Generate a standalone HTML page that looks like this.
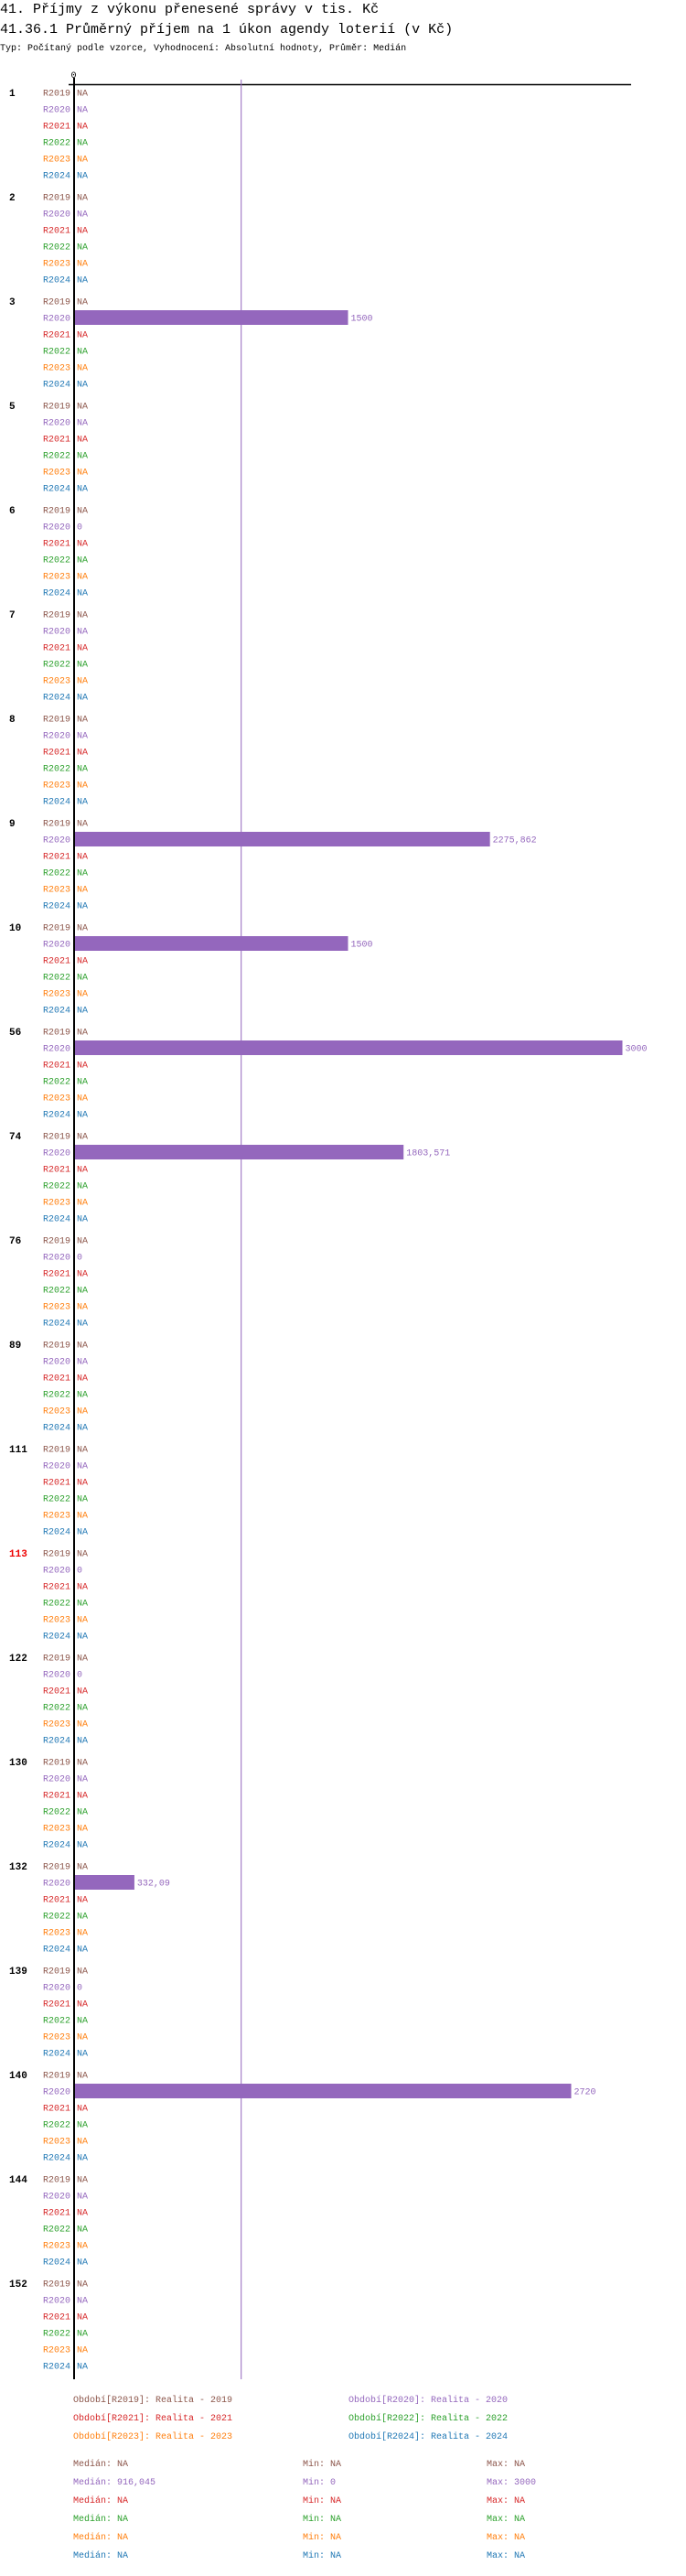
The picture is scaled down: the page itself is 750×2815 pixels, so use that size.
<!DOCTYPE html>
<html><head><meta charset="utf-8"><style>
body{margin:0;background:#fff;width:750px;height:2810px;overflow:hidden}
svg text{font-family:"Liberation Mono",monospace}
</style></head><body>
<svg id="chart" width="750" height="2810" xmlns="http://www.w3.org/2000/svg">
<text x="0" y="14" font-size="15">41. Příjmy z výkonu přenesené správy v tis. Kč</text>
<text x="0" y="36" font-size="15">41.36.1 Průměrný příjem na 1 úkon agendy loterií (v Kč)</text>
<text x="0" y="55" font-size="10">Typ: Počítaný podle vzorce, Vyhodnocení: Absolutní hodnoty, Průměr: Medián</text>
</svg>
<script>
const groups=["1","2","3","5","6","7","8","9","10","56","74","76","89","111","113","122","130","132","139","140","144","152"];
const periods=["R2019","R2020","R2021","R2022","R2023","R2024"];
const colors=["#8c564b","#9467bd","#d62728","#2ca02c","#ff7f0e","#1f77b4"];
const r2020=[null,null,1500,null,0,null,null,2275.862,1500,3000,1803.571,0,null,null,0,0,null,332.09,0,2720,null,null];
const r2020Labels=["NA","NA","1500","NA","0","NA","NA","2275,862","1500","3000","1803,571","0","NA","NA","0","0","NA","332,09","0","2720","NA","NA"];
const median=916.045;
const highlightGroup="113";
const legendNames=["Období[R2019]: Realita - 2019","Období[R2020]: Realita - 2020","Období[R2021]: Realita - 2021","Období[R2022]: Realita - 2022","Období[R2023]: Realita - 2023","Období[R2024]: Realita - 2024"];
const statMedian=["NA","916,045","NA","NA","NA","NA"];
const statMin=["NA","0","NA","NA","NA","NA"];
const statMax=["NA","3000","NA","NA","NA","NA"];

const svg=document.getElementById('chart');
const NS="http://www.w3.org/2000/svg";
const x0=80.5, k=0.2;
const xs=v=>x0+v*k;
const G=114, R=18, top0=101;
const rowY=(g,r)=>top0+g*G+r*R;
function el(t,a,txt){const e=document.createElementNS(NS,t);for(const q in a)e.setAttribute(q,a[q]);if(txt!==undefined)e.textContent=txt;svg.appendChild(e);return e;}
const bottom=rowY(groups.length-1,5)+15;
let e;
e=el('line',{x1:75,y1:92.5,x2:690,y2:92.5,stroke:'#000','stroke-width':1.5});


e=el('text',{x:xs(0),y:85,'font-size':10,'text-anchor':'middle'},'0');


e=el('line',{x1:xs(median),y1:87,x2:xs(median),y2:bottom,stroke:'#9467bd','stroke-width':1});


groups.forEach((g,gi)=>{
  e=el('text',{x:10,y:rowY(gi,0)+4,'font-size':11,'font-weight':'bold',fill:g===highlightGroup?'#e00':'#000'},g);
  
  
  periods.forEach((p,pi)=>{
    const y=rowY(gi,pi);
    e=el('text',{x:77,y:y+3.5,'font-size':10,'text-anchor':'end',fill:colors[pi]},p);
    
    
    let v=(pi===1)?r2020[gi]:null;
    let lab=(pi===1)?r2020Labels[gi]:"NA";
    let tx=84;
    if(v!==null&&v>0){
      e=el('rect',{x:xs(0),y:y-8,width:xs(v)-xs(0),height:16,fill:colors[pi]});
      
      
      tx=xs(v)+3;
    }
    e=el('text',{x:tx,y:y+3.5,'font-size':10,fill:colors[pi]},lab);
    
    
  });
});
e=el('line',{x1:81,y1:85,x2:81,y2:bottom,stroke:'#000','stroke-width':2});


legendNames.forEach((n,i)=>{
  e=el('text',{x:i%2?381:80,y:2625+Math.floor(i/2)*20,'font-size':10,fill:colors[i]},n);
  
  
});
periods.forEach((p,i)=>{
  const y=2695+i*20;
  e=el('text',{x:80,y:y,'font-size':10,fill:colors[i]},'Medián: '+statMedian[i]);
  
  
  e=el('text',{x:331,y:y,'font-size':10,fill:colors[i]},'Min: '+statMin[i]);
  
  
  e=el('text',{x:532,y:y,'font-size':10,fill:colors[i]},'Max: '+statMax[i]);
  
  
});
</script>
</body></html>
